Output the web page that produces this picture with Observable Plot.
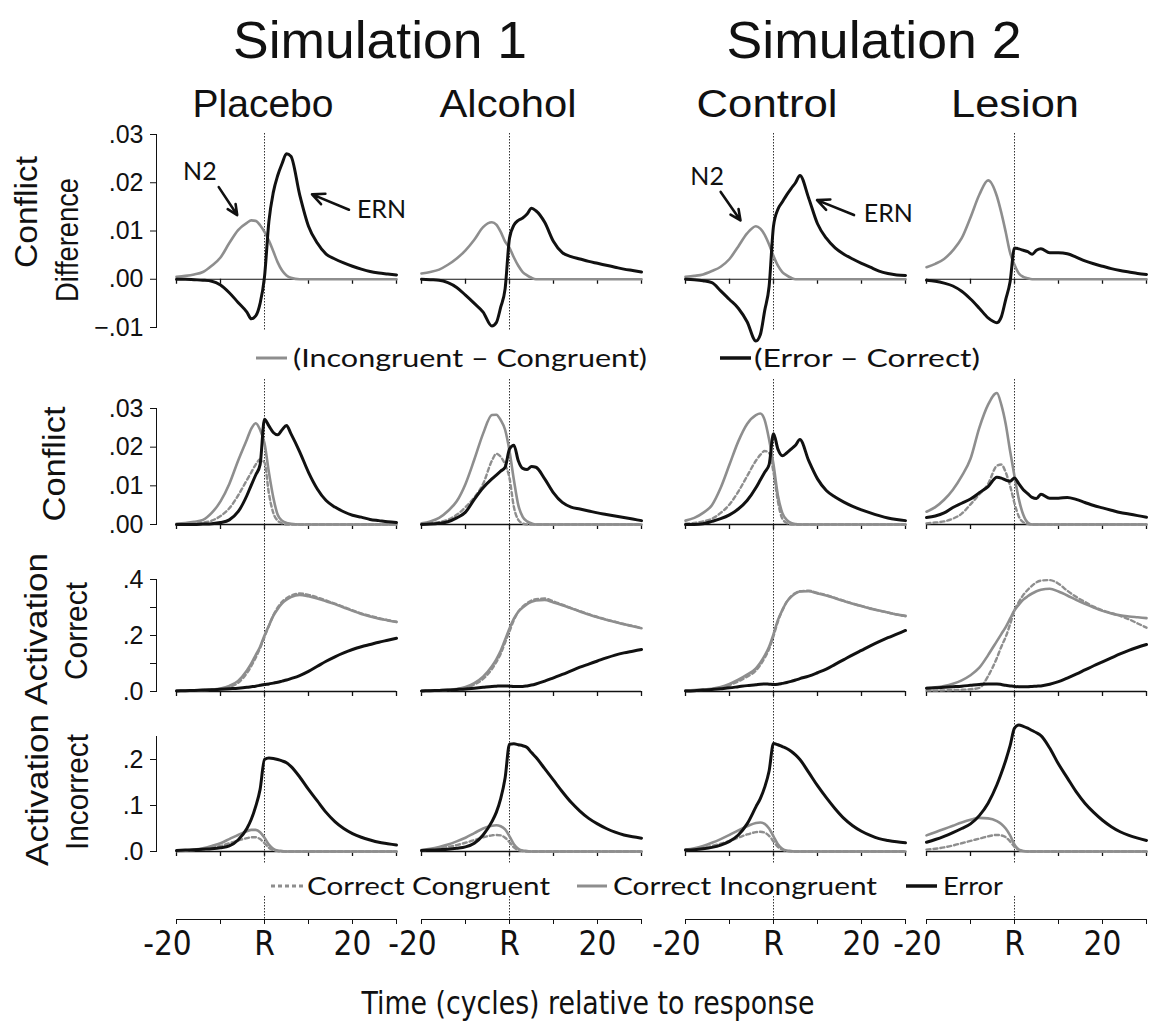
<!DOCTYPE html>
<html><head><meta charset="utf-8">
<script src="https://cdn.jsdelivr.net/npm/d3@7"></script>
<script src="https://cdn.jsdelivr.net/npm/@observablehq/plot@0.6"></script>
<style>
body{margin:0;background:#fff;}
#root{position:relative;width:1149px;height:1028px;overflow:hidden;background:#fff;}
</style></head><body><div id="root"></div><script>
// ---------- DATA ----------
const T = [-20,-18,-16,-14,-12,-10,-8,-6,-4,-3,-2,-1,0,1,2,3,4,5,6,8,10,12,14,16,18,20,22,24,26,28,30];
const conditions = ["Placebo","Alcohol","Control","Lesion"];
const simulations = ["Simulation 1","Simulation 2"];
const xTicks = [-20,-10,0,10,20,30];
const bottomTickLabels = ["-20","","R","","20",""];
const yTicksDiff = [-0.01,0,0.01,0.02,0.03];
const yTicksConflict = [0,0.01,0.02,0.03];
const yTicksActCorrect = [0,0.1,0.2,0.3,0.4];
const yLabelsActCorrect = [".0","",".2","",".4"];
const yTicksActIncorrect = [0,0.1,0.2];

// Row 1: Conflict difference
const diffInc_Placebo = [.0005,.0007,.001,.0015,.0028,.0045,.0075,.0102,.0117,.0122,.0121,.0112,.0098,.008,.0058,.0035,.0018,.0008,.0003,0,0,0,0,0,0,0,0,0,0,0,0];
const diffErr_Placebo = [0,0,-.0001,-.0002,-.0004,-.0012,-.0028,-.0048,-.0068,-.0082,-.0076,-.005,.0005,.012,.018,.0215,.024,.026,.0255,.0175,.011,.0075,.0052,.0042,.0034,.0027,.0021,.0016,.0013,.0011,.0009];
const diffInc_Alcohol = [.0012,.0015,.002,.003,.0043,.006,.0082,.0108,.0118,.0113,.0098,.0078,.0065,.0045,.0028,.0015,.0008,.0003,0,0,0,0,0,0,0,0,0,0,0,0,0];
const diffErr_Alcohol = [0,-.0001,-.0002,-.0007,-.0017,-.0033,-.005,-.0068,-.0097,-.009,-.0058,-.002,.0085,.0112,.0122,.0127,.0135,.0147,.0142,.0118,.0078,.0055,.0047,.0042,.0037,.0033,.0029,.0025,.0021,.0018,.0015];
const diffInc_Control = [.0005,.0007,.001,.0017,.0026,.0042,.0068,.0095,.011,.0105,.0092,.0072,.0048,.0028,.0015,.0008,.0003,0,0,0,0,0,0,0,0,0,0,0,0,0,0];
const diffErr_Control = [0,-.0001,-.0003,-.0007,-.0024,-.0042,-.006,-.0088,-.0128,-.0115,-.0065,-.0015,.011,.0145,.016,.0175,.0188,.02,.0215,.0168,.0115,.0085,.0065,.0052,.0042,.0033,.0025,.0017,.0012,.0009,.0008];
const diffInc_Lesion = [.0025,.0032,.0042,.006,.0085,.0128,.0175,.0205,.0172,.0138,.0098,.0055,.003,.0012,.0005,.0002,0,0,0,0,0,0,0,0,0,0,0,0,0,0,0];
const diffErr_Lesion = [-.0002,-.0004,-.0008,-.0014,-.0025,-.0041,-.006,-.008,-.009,-.0078,-.0042,-.0005,.0065,.0063,.006,.0057,.0052,.006,.0063,.0055,.0055,.0053,.0046,.0038,.0032,.0027,.0022,.0018,.0015,.0012,.001];

// Row 2: Conflict
const confInc_Placebo = [.0002,.0004,.0007,.0012,.003,.006,.0105,.0165,.022,.0248,.0262,.0245,.021,.0135,.007,.0025,.001,.0004,.0002,0,0,0,0,0,0,0,0,0,0,0,0];
const confCon_Placebo = [.0001,.0002,.0003,.0005,.001,.0022,.0042,.0075,.0115,.0135,.0155,.0168,.016,.008,.003,.001,.0003,0,0,0,0,0,0,0,0,0,0,0,0,0,0];
const confErr_Placebo = [0,0,0,.0001,.0002,.0005,.0012,.0033,.0075,.0102,.0128,.0155,.0272,.0255,.0238,.0232,.0245,.0256,.0235,.0188,.0135,.0092,.0062,.0045,.0033,.0024,.0019,.0013,.001,.0007,.0005];
const confInc_Alcohol = [.0003,.0008,.0017,.0035,.006,.0105,.0168,.0235,.0283,.0284,.027,.0245,.019,.0115,.005,.002,.0008,.0003,0,0,0,0,0,0,0,0,0,0,0,0,0];
const confCon_Alcohol = [.0001,.0003,.0006,.0012,.0025,.0045,.007,.0105,.0165,.0183,.0175,.0155,.012,.0045,.0012,.0003,0,0,0,0,0,0,0,0,0,0,0,0,0,0,0];
const confErr_Alcohol = [0,.0001,.0003,.0007,.0017,.0032,.0065,.0095,.0118,.0128,.0138,.0148,.0195,.0205,.0165,.0145,.0142,.015,.0148,.0118,.0082,.0057,.0045,.004,.0035,.003,.0026,.0022,.0018,.0014,.001];
const confInc_Control = [.001,.0017,.003,.005,.0095,.0155,.0215,.026,.0283,.0287,.027,.022,.0155,.0075,.003,.0012,.0004,.0001,0,0,0,0,0,0,0,0,0,0,0,0,0];
const confCon_Control = [.0002,.0004,.0008,.0015,.003,.0052,.0085,.0125,.0165,.018,.019,.0185,.0135,.006,.0015,.0004,0,0,0,0,0,0,0,0,0,0,0,0,0,0,0];
const confErr_Control = [0,0,.0002,.0008,.0015,.0025,.004,.0062,.0095,.0115,.0135,.0155,.0235,.0195,.0178,.0185,.0195,.0205,.022,.0165,.0118,.0088,.0071,.0058,.0047,.0038,.003,.0023,.0017,.0013,.001];
const confInc_Lesion = [.0033,.0045,.0064,.009,.0125,.017,.025,.031,.034,.031,.026,.019,.0125,.0065,.0025,.0005,0,0,0,0,0,0,0,0,0,0,0,0,0,0,0];
const confCon_Lesion = [.0003,.0005,.0008,.0015,.0028,.0052,.0078,.0105,.0152,.0155,.0135,.01,.0055,.002,.0006,.0002,0,0,0,0,0,0,0,0,0,0,0,0,0,0,0];
const confErr_Lesion = [.0018,.0022,.003,.0044,.0055,.0066,.0082,.0098,.0122,.012,.0115,.0112,.012,.0105,.009,.008,.007,.0067,.0078,.0068,.0068,.007,.0065,.0057,.0049,.0043,.0037,.0031,.0027,.0023,.0019];

// Row 3: Activation correct
const actCorInc_Placebo = [.003,.003,.004,.005,.007,.011,.02,.038,.075,.1,.13,.16,.2,.235,.27,.295,.315,.328,.337,.345,.34,.332,.322,.312,.3,.288,.277,.268,.26,.254,.248];
const actCorCon_Placebo = [.003,.003,.004,.005,.006,.009,.016,.031,.066,.091,.121,.155,.195,.235,.272,.3,.32,.333,.342,.35,.345,.336,.325,.314,.302,.29,.279,.27,.262,.255,.249];
const actCorErr_Placebo = [.002,.003,.004,.005,.006,.008,.01,.012,.015,.017,.019,.022,.025,.027,.03,.033,.037,.041,.046,.057,.072,.09,.108,.124,.138,.15,.16,.168,.176,.183,.19];
const actCorInc_Alcohol = [.002,.003,.004,.006,.009,.016,.03,.053,.09,.115,.145,.185,.225,.26,.285,.3,.312,.32,.325,.327,.318,.308,.297,.286,.275,.265,.256,.248,.24,.233,.226];
const actCorCon_Alcohol = [.002,.003,.004,.005,.008,.013,.025,.045,.08,.105,.135,.175,.215,.255,.285,.303,.316,.325,.33,.332,.322,.31,.298,.287,.276,.266,.257,.249,.241,.234,.227];
const actCorErr_Alcohol = [.002,.003,.004,.005,.007,.009,.012,.015,.018,.019,.02,.02,.019,.018,.018,.018,.02,.023,.027,.037,.049,.061,.074,.087,.098,.109,.12,.13,.138,.144,.15];
const actCorInc_Control = [.004,.005,.007,.01,.016,.027,.042,.06,.083,.103,.128,.16,.205,.255,.29,.32,.338,.35,.357,.358,.35,.343,.333,.323,.313,.305,.296,.289,.282,.275,.27];
const actCorCon_Control = [.003,.004,.006,.009,.014,.023,.036,.053,.075,.095,.12,.152,.198,.25,.29,.32,.34,.352,.358,.36,.352,.344,.334,.324,.314,.305,.297,.289,.282,.275,.269];
const actCorErr_Control = [.002,.003,.005,.007,.01,.013,.017,.021,.024,.026,.027,.026,.025,.026,.029,.032,.036,.041,.046,.055,.067,.08,.097,.114,.131,.147,.163,.178,.192,.205,.218];
const actCorInc_Lesion = [.012,.015,.02,.028,.04,.058,.085,.13,.18,.205,.23,.26,.29,.31,.328,.34,.35,.358,.363,.367,.357,.343,.327,.313,.3,.288,.279,.272,.268,.265,.262];
const actCorCon_Lesion = [.003,.003,.004,.005,.006,.008,.013,.055,.12,.16,.195,.24,.29,.32,.345,.363,.378,.39,.396,.398,.385,.36,.338,.32,.303,.29,.28,.27,.258,.243,.228];
const actCorErr_Lesion = [.012,.013,.015,.017,.019,.022,.025,.027,.027,.025,.022,.02,.018,.017,.017,.017,.018,.019,.02,.026,.035,.048,.062,.077,.092,.106,.12,.134,.147,.158,.168];

// Row 4: Activation incorrect
const actIncInc_Placebo = [.001,.002,.004,.007,.012,.018,.027,.036,.044,.047,.047,.042,.03,.015,.006,.002,.001,0,0,0,0,0,0,0,0,0,0,0,0,0,0];
const actIncCon_Placebo = [.001,.002,.003,.005,.008,.012,.018,.024,.029,.031,.031,.027,.018,.008,.003,.001,0,0,0,0,0,0,0,0,0,0,0,0,0,0,0];
const actIncErr_Placebo = [.002,.003,.004,.005,.006,.008,.012,.025,.05,.07,.098,.135,.2,.203,.202,.2,.197,.193,.185,.162,.135,.11,.085,.065,.05,.039,.031,.025,.02,.017,.014];
const actIncInc_Alcohol = [.003,.006,.01,.015,.022,.03,.04,.05,.056,.057,.055,.048,.033,.016,.006,.002,.001,0,0,0,0,0,0,0,0,0,0,0,0,0,0];
const actIncCon_Alcohol = [.002,.004,.007,.01,.014,.019,.025,.031,.035,.036,.035,.03,.02,.009,.003,.001,0,0,0,0,0,0,0,0,0,0,0,0,0,0,0];
const actIncErr_Alcohol = [.002,.003,.004,.005,.007,.01,.018,.036,.065,.085,.115,.16,.233,.234,.232,.23,.226,.215,.205,.18,.155,.13,.107,.088,.072,.06,.05,.042,.036,.032,.029];
const actIncInc_Control = [.004,.007,.012,.019,.027,.036,.046,.055,.062,.063,.06,.05,.033,.016,.006,.002,.001,0,0,0,0,0,0,0,0,0,0,0,0,0,0];
const actIncCon_Control = [.003,.005,.008,.012,.017,.023,.03,.037,.042,.043,.041,.034,.022,.01,.004,.001,0,0,0,0,0,0,0,0,0,0,0,0,0,0,0];
const actIncErr_Control = [.003,.004,.006,.009,.014,.022,.036,.06,.097,.115,.14,.175,.235,.232,.228,.224,.218,.21,.2,.172,.143,.117,.093,.072,.056,.044,.035,.028,.024,.021,.019];
const actIncInc_Lesion = [.035,.042,.049,.056,.063,.069,.073,.072,.066,.06,.05,.035,.015,.004,.001,0,0,0,0,0,0,0,0,0,0,0,0,0,0,0,0];
const actIncCon_Lesion = [.004,.006,.009,.013,.018,.023,.028,.033,.036,.035,.031,.022,.01,.003,.001,0,0,0,0,0,0,0,0,0,0,0,0,0,0,0,0];
const actIncErr_Lesion = [.02,.026,.033,.041,.05,.06,.078,.105,.145,.17,.198,.23,.268,.275,.272,.268,.263,.258,.252,.225,.19,.16,.13,.105,.085,.068,.054,.043,.035,.029,.024];

// Annotations (row 1) in data coordinates
const annotLabels = [
  {cond:"Placebo", label:"N2", t:-18.5, v:.0222},
  {cond:"Placebo", label:"ERN", t:21.0, v:.0144},
  {cond:"Control", label:"N2", t:-18.9, v:.0212},
  {cond:"Control", label:"ERN", t:20.5, v:.0136}
];
const annotArrows = [
  {cond:"Placebo", t1:-10.4, v1:.0191, t2:-6.2, v2:.0133},
  {cond:"Placebo", t1:19.2, v1:.0144, t2:10.8, v2:.0176},
  {cond:"Control", t1:-12.0, v1:.0181, t2:-7.5, v2:.0122},
  {cond:"Control", t1:18.3, v1:.0133, t2:9.9, v2:.0164}
];

// ---------- LAYOUT ----------
const GREY = "#8e8e8e", BLACK = "#111";
const STYLE = {
  inc: {stroke: GREY, strokeWidth: 2.6},
  con: {stroke: GREY, strokeWidth: 2.4, strokeDasharray: "4,3"},
  err: {stroke: BLACK, strokeWidth: 3}
};
const colX = [176, 421, 685, 926];
const pts = arr => T.map((t, i) => ({t, v: arr[i]}));
const fmt2 = d => d3.format(".2f")(d).replace("0.", ".");
const fmt1 = d => d3.format(".1f")(d).replace("0.", ".");

const rows = [
  {domain:[-0.01,0.03], top:134, bottom:327, ticks:yTicksDiff, fmt:fmt2, zeroW:1, rIn:[-1,-4],
   series:{Placebo:[[diffInc_Placebo,"inc"],[diffErr_Placebo,"err"]], Alcohol:[[diffInc_Alcohol,"inc"],[diffErr_Alcohol,"err"]],
           Control:[[diffInc_Control,"inc"],[diffErr_Control,"err"]], Lesion:[[diffInc_Lesion,"inc"],[diffErr_Lesion,"err"]]}},
  {domain:[0,0.03], top:408, bottom:524, ticks:yTicksConflict, fmt:fmt2, zeroW:1.5, rIn:[-29,-16],
   series:{Placebo:[[confInc_Placebo,"inc"],[confCon_Placebo,"con"],[confErr_Placebo,"err"]], Alcohol:[[confInc_Alcohol,"inc"],[confCon_Alcohol,"con"],[confErr_Alcohol,"err"]],
           Control:[[confInc_Control,"inc"],[confCon_Control,"con"],[confErr_Control,"err"]], Lesion:[[confInc_Lesion,"inc"],[confCon_Lesion,"con"],[confErr_Lesion,"err"]]}},
  {domain:[0,0.4], top:579, bottom:691, ticks:yTicksActCorrect, fmt:d => yLabelsActCorrect[yTicksActCorrect.indexOf(d)], zeroW:1.5, rIn:[-39,-14],
   series:{Placebo:[[actCorInc_Placebo,"inc"],[actCorCon_Placebo,"con"],[actCorErr_Placebo,"err"]], Alcohol:[[actCorInc_Alcohol,"inc"],[actCorCon_Alcohol,"con"],[actCorErr_Alcohol,"err"]],
           Control:[[actCorInc_Control,"inc"],[actCorCon_Control,"con"],[actCorErr_Control,"err"]], Lesion:[[actCorInc_Lesion,"inc"],[actCorCon_Lesion,"con"],[actCorErr_Lesion,"err"]]}},
  {domain:[0,0.25], top:735.8, bottom:850.8, ticks:yTicksActIncorrect, fmt:fmt1, zeroW:1.5, rIn:[-31,-13],
   series:{Placebo:[[actIncInc_Placebo,"inc"],[actIncCon_Placebo,"con"],[actIncErr_Placebo,"err"]], Alcohol:[[actIncInc_Alcohol,"inc"],[actIncCon_Alcohol,"con"],[actIncErr_Alcohol,"err"]],
           Control:[[actIncInc_Control,"inc"],[actIncCon_Control,"con"],[actIncErr_Control,"err"]], Lesion:[[actIncInc_Lesion,"inc"],[actIncCon_Lesion,"con"],[actIncErr_Lesion,"err"]]}}
];

const root = document.getElementById("root");
function place(svg, left, top) {
  svg.style.position = "absolute";
  svg.style.left = left + "px";
  svg.style.top = top + "px";
  svg.style.overflow = "visible";
  svg.style.background = "transparent";
  svg.style.maxWidth = "none";
  root.appendChild(svg);
}

rows.forEach((row, ri) => {
  conditions.forEach((cond, ci) => {
    const mt = 50, mb = 30, ml = 10, mr = 12;
    const h = mt + (row.bottom - row.top) + mb;
    const marks = [
      Plot.ruleY([0], {x1: -20, x2: 30, stroke: BLACK, strokeWidth: row.zeroW}),
      Plot.ruleX(xTicks, {y1: 0, y2: 0, insetBottom: -5, stroke: BLACK, strokeWidth: 1.3}),
      Plot.ruleX([0], {stroke: "#333", strokeWidth: 1, strokeDasharray: "1.5,1.5", insetTop: row.rIn[0], insetBottom: row.rIn[1]})
    ];
    for (const [arr, kind] of row.series[cond]) {
      marks.push(Plot.line(pts(arr), {x: "t", y: "v", ...STYLE[kind], strokeLinejoin: "round", curve: "monotone-x"}));
    }
    if (ri === 0) {
      marks.push(Plot.text(annotLabels.filter(a => a.cond === cond), {x: "t", y: "v", text: "label", textAnchor: "start", fontSize: 25, fontFamily: "Lato, 'Open Sans', sans-serif", fill: "#111"}));
      marks.push(Plot.arrow(annotArrows.filter(a => a.cond === cond), {x1: "t1", y1: "v1", x2: "t2", y2: "v2", stroke: "#111", strokeWidth: 2.6, headLength: 13, headAngle: 50}));
    }
    const svg = Plot.plot({
      width: ml + 20 + 220 + mr, height: h,
      marginTop: mt, marginBottom: mb, marginLeft: ml, marginRight: mr,
      x: {domain: [-20, 30], range: [ml + 20, ml + 240], axis: null},
      y: ci === 0
        ? {domain: row.domain, ticks: row.ticks, tickFormat: row.fmt, tickSize: 6, tickPadding: 7, line: true, label: null}
        : {domain: row.domain, axis: null},
      style: {fontFamily: "'Liberation Sans', Arial, sans-serif", fontSize: "25px", color: "#111"},
      marks
    });
    place(svg, colX[ci] - 30, row.top - mt);
  });
});

// bottom time axes
const NARROW = "'Liberation Sans Narrow', 'DejaVu Sans Condensed', 'Liberation Sans', sans-serif";
conditions.forEach((cond, ci) => {
  const svg = Plot.plot({
    width: 30 + 220 + 12, height: 120,
    marginTop: 16, marginBottom: 81, marginLeft: 30, marginRight: 12,
    x: {domain: [-20, 30], ticks: xTicks, tickFormat: d => d === -20 ? "" : bottomTickLabels[xTicks.indexOf(d)], tickSize: 5, tickPadding: 7, line: true, label: null},
    style: {fontFamily: NARROW, fontSize: "33px", color: "#111", fontStretch: "condensed"},
    marks: [
      Plot.ruleX([0], {stroke: "#333", strokeWidth: 1, strokeDasharray: "1.5,1.5"}),
      Plot.text([-20], {x: d => d, text: d => bottomTickLabels[xTicks.indexOf(d)], frameAnchor: "bottom", lineAnchor: "top", dy: 12, dx: -9, fill: "#111"})
    ]
  });
  place(svg, colX[ci] - 30, 880);
});

// ---------- STATIC TEXT ----------
const ov = d3.select(root).append("svg").attr("width", 1149).attr("height", 1028)
  .style("position", "absolute").style("left", "0px").style("top", "0px").style("overflow", "visible");
const HELV = "'Liberation Sans', Arial, sans-serif";
const HUM = "Lato, 'Open Sans', sans-serif";
function txt(s, x, y, size, len, family, anchor = "middle", rotate = false) {
  const t = ov.append("text").text(s).attr("font-size", size).attr("font-family", family).attr("fill", "#111")
    .attr("text-anchor", anchor).attr("textLength", len).attr("lengthAdjust", "spacingAndGlyphs");
  if (rotate) t.attr("transform", `translate(${x},${y}) rotate(-90)`);
  else t.attr("x", x).attr("y", y);
  return t;
}
txt(simulations[0], 380, 58, 52, 294, HELV);
txt(simulations[1], 874, 58, 52, 295, HELV);
[[263, 141], [508, 137], [767, 141], [1015, 128]].forEach(([cx, len], i) => txt(conditions[i], cx, 117, 39, len, HELV));
// row labels
txt("Conflict", 37, 212, 32, 112, HELV, "middle", true);
txt("Difference", 78, 240, 32, 124, HELV, "middle", true);
txt("Conflict", 65, 464, 32, 115, HELV, "middle", true);
txt("Activation", 47, 629, 32, 152, HELV, "middle", true);
txt("Correct", 87, 631, 32, 98, HELV, "middle", true);
txt("Activation", 48, 790, 32, 152, HELV, "middle", true);
txt("Incorrect", 88, 792, 32, 116, HELV, "middle", true);
// legend 1
ov.append("line").attr("x1", 256).attr("x2", 287).attr("y1", 358).attr("y2", 358).attr("stroke", GREY).attr("stroke-width", 3);
txt("(Incongruent – Congruent)", 293, 367, 25, 354, HUM, "start");
ov.append("line").attr("x1", 720).attr("x2", 751).attr("y1", 358).attr("y2", 358).attr("stroke", BLACK).attr("stroke-width", 3.5);
txt("(Error – Correct)", 754, 367, 25, 226, HUM, "start");
// legend 2
ov.append("line").attr("x1", 271).attr("x2", 303).attr("y1", 886).attr("y2", 886).attr("stroke", GREY).attr("stroke-width", 3).attr("stroke-dasharray", "4,3");
txt("Correct Congruent", 307, 895, 25, 243, HUM, "start");
ov.append("line").attr("x1", 577).attr("x2", 607).attr("y1", 886).attr("y2", 886).attr("stroke", GREY).attr("stroke-width", 3);
txt("Correct Incongruent", 613, 895, 25, 264, HUM, "start");
ov.append("line").attr("x1", 906).attr("x2", 937).attr("y1", 886).attr("y2", 886).attr("stroke", BLACK).attr("stroke-width", 3.5);
txt("Error", 943, 895, 25, 60, HUM, "start");
// bottom title
txt("Time (cycles) relative to response", 588, 1014, 32, 453, NARROW);
</script></body></html>
